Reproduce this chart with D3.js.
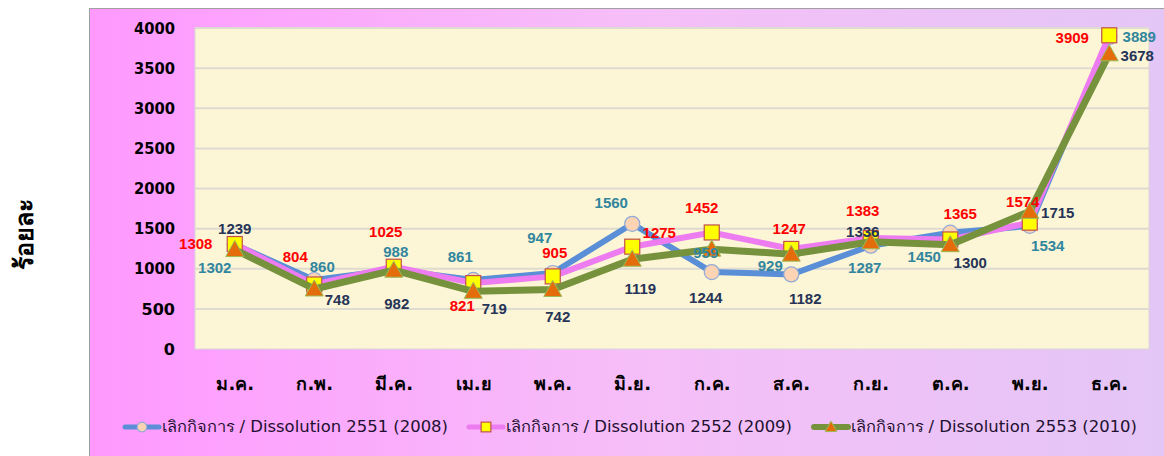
<!DOCTYPE html>
<html>
<head>
<meta charset="utf-8">
<script src="https://cdn.jsdelivr.net/npm/d3@7/dist/d3.min.js"></script>
<style>
  html, body { margin: 0; padding: 0; background: #fff; }
  svg { display: block; }
  text { font-family: "DejaVu Sans", Tahoma, sans-serif; }
</style>
</head>
<body>
<svg id="chart" width="1164" height="456"></svg>
<script>
// ---- data ----
var months = ['ม.ค.', 'ก.พ.', 'มี.ค.', 'เม.ย', 'พ.ค.', 'มิ.ย.', 'ก.ค.', 'ส.ค.', 'ก.ย.', 'ต.ค.', 'พ.ย.', 'ธ.ค.'];
var yTicks = [0, 500, 1000, 1500, 2000, 2500, 3000, 3500, 4000];
var values2551 = [1302, 860, 988, 861, 947, 1560, 959, 929, 1287, 1450, 1534, 3889];
var values2552 = [1308, 804, 1025, 821, 905, 1275, 1452, 1247, 1383, 1365, 1574, 3909];
var values2553 = [1239, 748, 982, 719, 742, 1119, 1244, 1182, 1336, 1300, 1715, 3678];
var seriesNames = [
  'เลิกกิจการ / Dissolution 2551 (2008)',
  'เลิกกิจการ / Dissolution 2552 (2009)',
  'เลิกกิจการ / Dissolution 2553 (2010)'
];

// where each data label sits relative to its point (hand placed in the original)
var nudge2551 = [[-20, 23], [8, -13], [2, -18], [-13, -23], [-13, -35], [-21, -21], [-6, -19], [-21, -9], [-6, 22], [-26, 24], [18, 20], [30, 0]];
var nudge2552 = [[-39, 0], [-19, -28], [-8, -35], [-11, 22], [2, -24], [27, -14], [-10, -25], [-2, -20], [-8, -27], [10, -26], [-7, -21], [-37, 2]];
var nudge2553 = [[0, -21], [23, 11], [3, 33], [21, 17], [5, 27], [8, 29], [-6, 48], [14, 44], [-8, -10], [20, 18], [28, 1], [28, 2]];

var series = [
  { name: seriesNames[0], values: values2551, nudge: nudge2551, line: '#5a8fd8', width: 6, marker: 'circle', fill: '#fcd4b4', stroke: '#8faad8', label: '#31869e' },
  { name: seriesNames[1], values: values2552, nudge: nudge2552, line: '#ec7cf0', width: 6, marker: 'square', fill: '#ffff00', stroke: '#c0504d', label: '#ff0000' },
  { name: seriesNames[2], values: values2553, nudge: nudge2553, line: '#76923c', width: 7, marker: 'triangle', fill: '#e46c0a', stroke: '#9bbb59', label: '#253457' }
];

var svg = d3.select('#chart');
var W = 1164, H = 456;
var plot = { left: 195, right: 1149, top: 28, bottom: 349 };

// ---- outer background ----
var defs = svg.append('defs');
var grad = defs.append('linearGradient').attr('id', 'bg').attr('x1', 0).attr('x2', 1).attr('y1', 0).attr('y2', 0);
grad.append('stop').attr('offset', '0%').attr('stop-color', '#ff99ff');
grad.append('stop').attr('offset', '50%').attr('stop-color', '#f6bef8');
grad.append('stop').attr('offset', '100%').attr('stop-color', '#e4c6f6');

svg.append('rect')
  .attr('x', 89.5).attr('y', 8.5)
  .attr('width', W - 89).attr('height', H - 8)
  .attr('fill', 'url(#bg)')
  .attr('stroke', '#a0a0a0');

svg.append('rect')
  .attr('x', plot.left).attr('y', plot.top)
  .attr('width', plot.right - plot.left).attr('height', plot.bottom - plot.top)
  .attr('fill', '#fcf5d6')
  .attr('stroke', '#d8d8d8');

// ---- scales ----
var x = d3.scalePoint().domain(months).range([plot.left, plot.right]).padding(0.5);
var y = d3.scaleLinear().domain([0, 4000]).range([plot.bottom, plot.top]);

// grid
svg.append('g').selectAll('line')
  .data(yTicks.slice(1))
  .join('line')
  .attr('x1', plot.left).attr('x2', plot.right)
  .attr('y1', function(d) { return y(d); }).attr('y2', function(d) { return y(d); })
  .attr('stroke', '#dedbd0').attr('stroke-width', 2);

// y axis labels
var yAxis = svg.append('g')
  .attr('transform', 'translate(' + (plot.left - 20) + ',0)')
  .call(d3.axisLeft(y).tickValues(yTicks).tickFormat(d3.format('d')).tickSize(0).tickPadding(0));
yAxis.select('.domain').remove();
yAxis.selectAll('text')
  .attr('font-size', 16).attr('font-weight', 'bold').attr('fill', '#000')
  .attr('textLength', 41).attr('lengthAdjust', 'spacingAndGlyphs')
  .style('font-family', '"DejaVu Sans", sans-serif');
// textLength only fits the 4-digit labels
yAxis.selectAll('text').filter(function(d) { return d < 1000; }).attr('textLength', null);

// x axis labels
var xAxis = svg.append('g')
  .attr('transform', 'translate(0,' + (plot.bottom + 28) + ')')
  .call(d3.axisBottom(x).tickSize(0).tickPadding(0));
xAxis.select('.domain').remove();
xAxis.selectAll('text')
  .attr('font-size', 18).attr('font-weight', 'bold').attr('fill', '#000');

// y title
svg.append('text')
  .attr('transform', 'translate(24,234) rotate(-90)')
  .attr('text-anchor', 'middle')
  .attr('dy', '0.36em')
  .attr('font-size', 25).attr('font-weight', 'bold').attr('fill', '#000')
  .text('ร้อยละ');

// ---- lines + markers ----
var line = d3.line()
  .x(function(d, i) { return x(months[i]); })
  .y(function(d) { return y(d); });

function drawMarker(g, kind, cx, cy, s, k) {
  k = k || 1;
  if (kind === 'circle') {
    g.append('circle').attr('cx', cx).attr('cy', cy).attr('r', 7.5 * k)
      .attr('fill', s.fill).attr('stroke', s.stroke).attr('stroke-width', 1.2);
  } else if (kind === 'square') {
    g.append('rect').attr('x', cx - 7.5 * k).attr('y', cy - 7.5 * k).attr('width', 15 * k).attr('height', 15 * k)
      .attr('fill', s.fill).attr('stroke', s.stroke).attr('stroke-width', 1.2);
  } else {
    g.append('path')
      .attr('d', 'M' + cx + ',' + (cy - 9 * k) + 'L' + (cx + 9 * k) + ',' + (cy + 7 * k) + 'L' + (cx - 9 * k) + ',' + (cy + 7 * k) + 'Z')
      .attr('fill', s.fill).attr('stroke', s.stroke).attr('stroke-width', 1);
  }
}

series.forEach(function(s) {
  var g = svg.append('g');
  g.append('path')
    .attr('d', line(s.values))
    .attr('fill', 'none')
    .attr('stroke', s.line)
    .attr('stroke-width', s.width)
    .attr('stroke-linejoin', 'round');
  s.values.forEach(function(v, i) {
    drawMarker(g, s.marker, x(months[i]), y(v), s);
  });
});

// data labels on top
series.forEach(function(s) {
  svg.append('g').selectAll('text')
    .data(s.values)
    .join('text')
    .attr('x', function(d, i) { return x(months[i]) + s.nudge[i][0]; })
    .attr('y', function(d, i) { return y(d) + s.nudge[i][1]; })
    .attr('dy', '0.36em')
    .attr('text-anchor', 'middle')
    .attr('font-size', 15).attr('font-weight', 'bold')
    .style('font-family', '"Liberation Sans", Arial, sans-serif')
    .attr('fill', s.label)
    .text(function(d) { return d; });
});

// ---- legend ----
var legendX = [123, 467, 812];
series.forEach(function(s, i) {
  var g = svg.append('g').attr('transform', 'translate(' + legendX[i] + ',427)');
  g.append('line').attr('x1', 2).attr('x2', 36).attr('y1', 0).attr('y2', 0)
    .attr('stroke', s.line).attr('stroke-width', s.width - 1).attr('stroke-linecap', 'round');
  drawMarker(g, s.marker, 19, 0, s, 0.65);
  g.append('text')
    .attr('x', 39).attr('y', 0).attr('dy', '0.36em')
    .attr('font-size', 15).attr('fill', '#1e1030')
    .attr('textLength', 286).attr('lengthAdjust', 'spacingAndGlyphs')
    .text(s.name);
});
</script>
</body>
</html>
